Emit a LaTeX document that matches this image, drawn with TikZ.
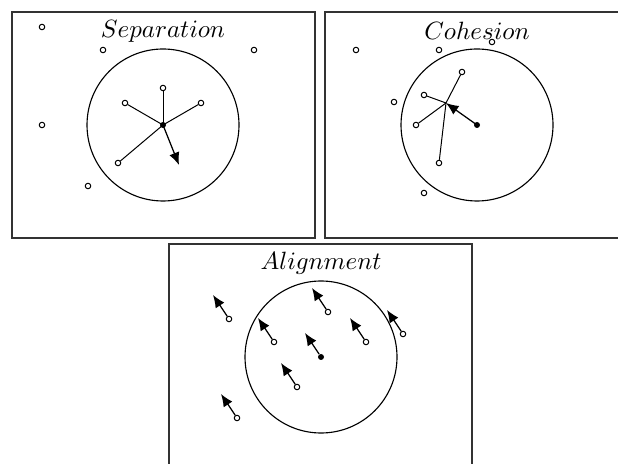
\documentclass[tikz,border=0pt]{standalone}
\usetikzlibrary{arrows.meta}
\begin{document}
\begin{tikzpicture}[x=0.4pt,y=-0.4pt,
  panel/.style={draw=black!80,line width=0.6pt},
  zone/.style={draw,line width=0.45pt},
  boid/.style={circle,draw,line width=0.4pt,inner sep=0pt,minimum size=2.2pt,fill=white},
  selfboid/.style={circle,fill=black,inner sep=0pt,minimum size=2.4pt},
  link/.style={line width=0.4pt},
  steer/.style={line width=0.5pt,-{Latex[length=5pt,width=4.2pt]}},
  title/.style={font=\fontsize{10.4}{12}\selectfont}]
\useasboundingbox (0,0) rectangle (618,464);
\clip (0,0) rectangle (618,464);
% ---------- Separation ----------
\draw[panel] (12,12) rectangle (315,238);
\node[title] (t1) at (163,31) {$Separation$};
\draw[zone] (163,125) circle [radius=30.4pt];
\node[boid] (s1) at (42,27) {};
\node[boid] (s2) at (103,50) {};
\node[boid] (s3) at (254,50) {};
\node[boid] (s4) at (42,125) {};
\node[boid] (s5) at (88,186) {};
\node[boid] (s6) at (163,88) {};
\node[boid] (s7) at (125,103) {};
\node[boid] (s8) at (201,103) {};
\node[boid] (s9) at (118,163) {};
\coordinate (sc) at (163,125);
\coordinate (sa) at (179,165);
\draw[link] (sc) -- (s6);
\draw[link] (sc) -- (s7);
\draw[link] (sc) -- (s8);
\draw[link] (sc) -- (s9);
\draw[steer] (sc) -- (sa);
\node[selfboid] (s0) at (sc) {};
% ---------- Cohesion ----------
\draw[panel] (325,12) rectangle (640,238);
\node[title] (t2) at (477,31) {$Cohesion$};
\draw[zone] (477,125) circle [radius=30.4pt];
\node[boid] (c1) at (356,50) {};
\node[boid] (c2) at (439,50) {};
\node[boid] (c3) at (492,42) {};
\node[boid] (c4) at (394,102) {};
\node[boid] (c5) at (424,193) {};
\node[boid] (c6) at (462,72) {};
\node[boid] (c7) at (424,95) {};
\node[boid] (c8) at (416,125) {};
\node[boid] (c9) at (439,163) {};
\coordinate (cc) at (477,125);
\coordinate (cm) at (446,103);
\draw[link] (c6) -- (cm);
\draw[link] (c7) -- (cm);
\draw[link] (c8) -- (cm);
\draw[link] (c9) -- (cm);
\draw[steer] (cc) -- (cm);
\node[selfboid] (c0) at (cc) {};
% ---------- Alignment ----------
\draw[panel] (169,244) rectangle (472,480);
\node[title] (t3) at (321,263) {$Alignment$};
\draw[zone] (321,357) circle [radius=30.4pt];
\node[boid] (a1) at (229,319) {};
\node[boid] (a2) at (328,312) {};
\node[boid] (a3) at (274,342) {};
\node[boid] (a4) at (366,342) {};
\node[boid] (a5) at (403,334) {};
\node[boid] (a7) at (297,387) {};
\node[boid] (a8) at (237,418) {};
\node[selfboid] (a0) at (321,357) {};
\coordinate (h1) at (213,295);
\coordinate (h2) at (312,288);
\coordinate (h3) at (258,318);
\coordinate (h4) at (350,318);
\coordinate (h5) at (387,310);
\coordinate (h0) at (305,333);
\coordinate (h7) at (281,363);
\coordinate (h8) at (221,394);
\draw[steer] (a1) -- (h1);
\draw[steer] (a2) -- (h2);
\draw[steer] (a3) -- (h3);
\draw[steer] (a4) -- (h4);
\draw[steer] (a5) -- (h5);
\draw[steer] (a0) -- (h0);
\draw[steer] (a7) -- (h7);
\draw[steer] (a8) -- (h8);
\end{tikzpicture}
\end{document}
